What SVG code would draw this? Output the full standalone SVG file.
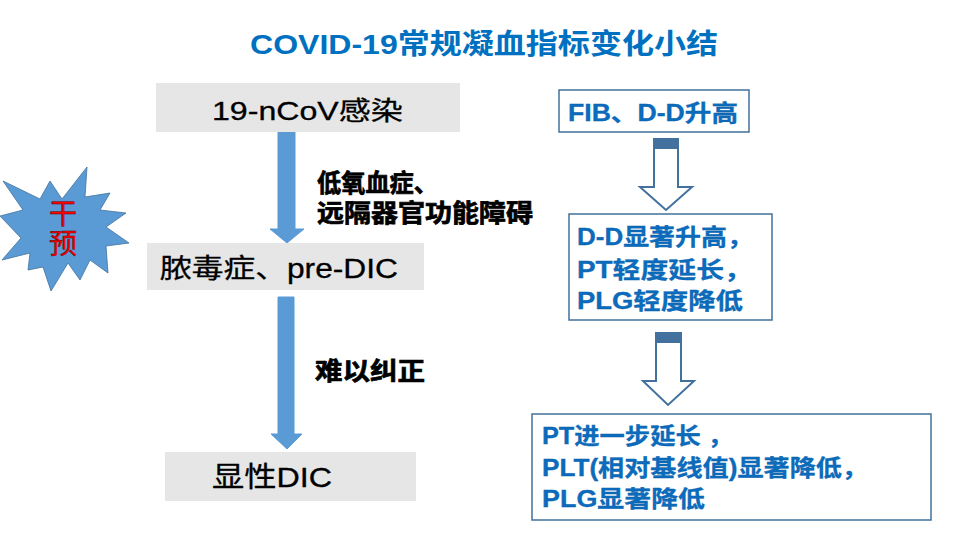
<svg xmlns="http://www.w3.org/2000/svg" width="960" height="540" viewBox="0 0 960 540">
<style>
.t{font-family:"Liberation Sans","Noto Sans CJK SC",sans-serif}
.title{font-size:28px;font-weight:bold;fill:#0070C0}
.gbox{fill:#E6E6E6}
.gtxt{font-size:26px;fill:#000;stroke:#000;stroke-width:0.3}
.lbl{font-size:25px;font-weight:bold;fill:#000;stroke:#000;stroke-width:0.7}
.wbox{fill:#fff;stroke:#41719C;stroke-width:1.5}
.btxt{font-size:23px;font-weight:bold;fill:#0B6CBE;stroke:#0B5FA8;stroke-width:0.3}
.solid{fill:#5B9BD5;stroke:#5B9BD5;stroke-width:1}
.hollow{fill:#fff;stroke:#41719C;stroke-width:2;stroke-linejoin:miter}
.strip{fill:#41719C}
.st{font-family:"Liberation Serif","Noto Sans CJK SC",serif;font-size:28px;fill:#FF0000;stroke:#600;stroke-width:0.5}
</style>
<rect width="960" height="540" fill="#fff"/>
<text class="t title" x="250" y="54" textLength="468" lengthAdjust="spacingAndGlyphs">COVID-19常规凝血指标变化小结</text>

<g id="star">
<polygon points="87,167 85,197 110,193 100,210 126,213 106,227 129,243 106,246 108,273 90,260 80,280 68,263 51,291 43,267 28,270 30,253 2,260 21,238 0,216 23,210 3,181 40,199 50,181 62,199" fill="#5B9BD5" stroke="#41719C" stroke-width="0.8" stroke-linejoin="miter"/>
<text class="st" x="63" y="224" text-anchor="middle">干</text>
<text class="st" x="63" y="254" text-anchor="middle">预</text>
</g>

<g id="connectors">
<polygon class="solid" points="278,132 295,132 295,229 304,229 287,243 270,229 278,229"/>
<polygon class="solid" points="278,297 294,297 294,434 302,434 287,449 271,434 278,434"/>
<polygon class="hollow" points="654,139 678,139 678,187 692,187 666,210 640,187 654,187"/>
<rect class="strip" x="654" y="139" width="24" height="10"/>
<polygon class="hollow" points="656,333 681,333 681,381 694,381 668,405 643,381 656,381"/>
<rect class="strip" x="656" y="333" width="25" height="10"/>
</g>

<g id="lbl1">
<text class="t lbl" x="317" y="192" textLength="121" lengthAdjust="spacingAndGlyphs">低氧血症、</text>
<text class="t lbl" x="317" y="222" textLength="216" lengthAdjust="spacingAndGlyphs">远隔器官功能障碍</text>
</g>
<g id="lbl2">
<text class="t lbl" x="315" y="380" textLength="110" lengthAdjust="spacingAndGlyphs">难以纠正</text>
</g>

<g id="n1">
<rect class="gbox" x="156" y="83" width="304" height="49"/>
<text class="t gtxt" x="212" y="120" textLength="191" lengthAdjust="spacingAndGlyphs">19-nCoV感染</text>
</g>
<g id="n2">
<rect class="gbox" x="147" y="243" width="277" height="47"/>
<text class="t gtxt" x="160" y="278" style="font-size:27px" textLength="238" lengthAdjust="spacingAndGlyphs">脓毒症、pre-DIC</text>
</g>
<g id="n3">
<rect class="gbox" x="165" y="452" width="251" height="49"/>
<text class="t gtxt" x="212" y="487" style="font-size:28px" textLength="120" lengthAdjust="spacingAndGlyphs">显性DIC</text>
</g>

<g id="r1">
<rect class="wbox" x="559" y="90" width="190" height="42"/>
<text class="t btxt" x="568" y="121" textLength="170" lengthAdjust="spacingAndGlyphs">FIB、D-D升高</text>
</g>
<g id="r2">
<rect class="wbox" x="569" y="214" width="203" height="106"/>
<text class="t btxt" x="577" y="245" textLength="176" lengthAdjust="spacingAndGlyphs">D-D显著升高，</text>
<text class="t btxt" x="577" y="278" textLength="175" lengthAdjust="spacingAndGlyphs">PT轻度延长，</text>
<text class="t btxt" x="577" y="309" textLength="166" lengthAdjust="spacingAndGlyphs">PLG轻度降低</text>
</g>
<g id="r3">
<rect class="wbox" x="532" y="414" width="399" height="106"/>
<text class="t btxt" x="542" y="444" textLength="191" lengthAdjust="spacingAndGlyphs">PT进一步延长 ，</text>
<text class="t btxt" x="542" y="476" textLength="326" lengthAdjust="spacingAndGlyphs">PLT(相对基线值)显著降低，</text>
<text class="t btxt" x="542" y="507" textLength="163" lengthAdjust="spacingAndGlyphs">PLG显著降低</text>
</g>
</svg>
